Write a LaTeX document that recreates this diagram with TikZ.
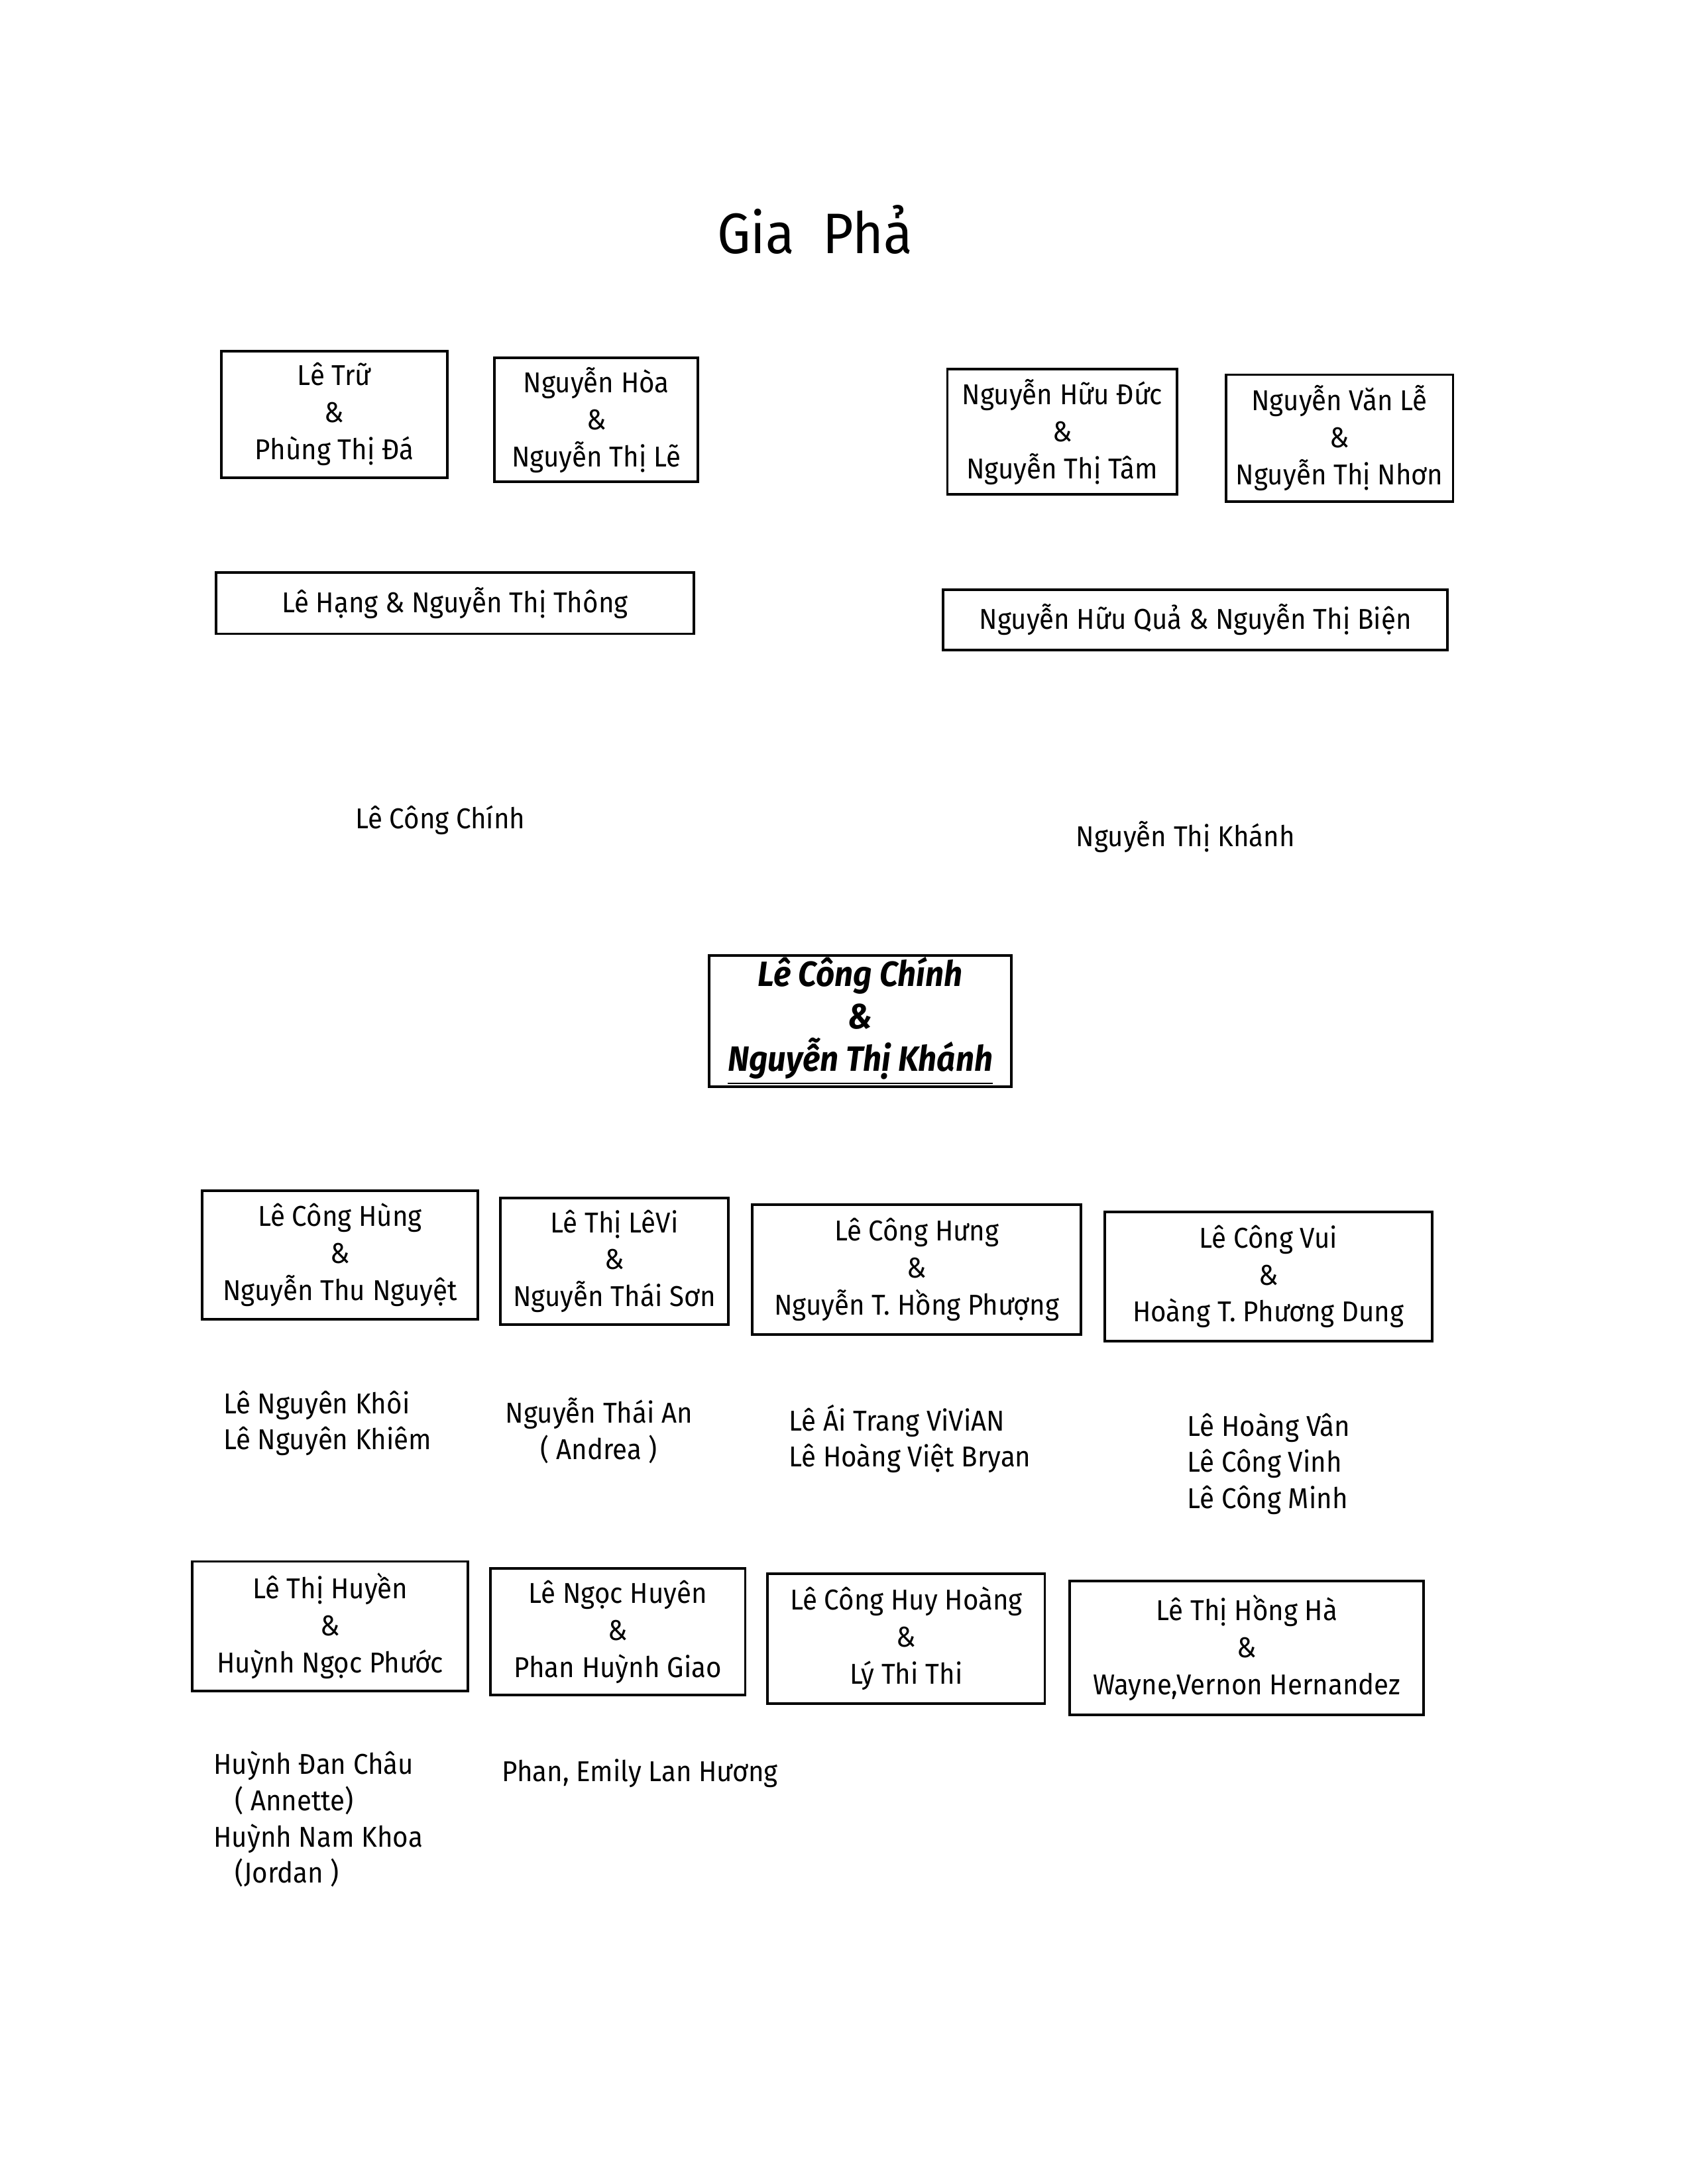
\documentclass[tikz,border=0pt]{standalone}
\usepackage{fontspec}
\setmainfont{Fira Sans}[FakeStretch=0.93]
\begin{document}
\begin{tikzpicture}[x=0.5pt,y=-0.5pt,
  couple/.style={draw,line width=0.9pt,align=center,inner sep=0pt,
    font=\fontsize{10.3}{13.3}\selectfont},
  oneline/.style={draw,line width=0.9pt,align=center,inner sep=0pt,
    font=\fontsize{10.3}{13.3}\selectfont},
  names/.style={align=left,inner sep=0pt,font=\fontsize{10.3}{13}\selectfont},
  single/.style={inner sep=0pt,font=\fontsize{10.3}{13}\selectfont}]
\useasboundingbox (0,0) rectangle (1210,1568);
\fill[white] (0,0) rectangle (1210,1568);

\node (title) at (585,165) {\fontsize{20.5}{24}\selectfont Gia\ \ Phả};

% grandparents
\node[couple,minimum width=81pt,minimum height=45.5pt] (b1) at (240,297.5)
  {Lê Trữ\\\&\\Phùng Thị Đá};
\node[couple,minimum width=73pt,minimum height=44.5pt] (b2) at (428,301.5)
  {Nguyễn Hòa\\\&\\Nguyễn Thị Lẽ};
\node[couple,minimum width=82.5pt,minimum height=45pt] (b3) at (762.5,310)
  {Nguyễn Hữu Đức\\\&\\Nguyễn Thị Tâm};
\node[couple,minimum width=81.5pt,minimum height=45.5pt] (b4) at (961.5,314.5)
  {Nguyễn Văn Lễ\\\&\\Nguyễn Thị Nhơn};

% parents
\node[oneline,minimum width=171.5pt,minimum height=22pt] (b5) at (326.5,433)
  {Lê Hạng \& Nguyễn Thị Thông};
\node[oneline,minimum width=181pt,minimum height=21.5pt] (b6) at (858,445)
  {Nguyễn Hữu Quả \& Nguyễn Thị Biện};

\node[single] (c1) at (316,589) {Lê Công Chính};
\node[single] (c2) at (851,601) {Nguyễn Thị Khánh};

% main couple
\node[couple,minimum width=108.5pt,minimum height=47pt,
  font=\fontsize{12.6}{15.3}\selectfont\bfseries\itshape] (main) at (617.5,733)
  {Lê Công Chính\\\&\\\underline{Nguyễn Thị Khánh}};

% children couples
\node[couple,minimum width=99pt,minimum height=46pt] (k1) at (244,901)
  {Lê Công Hùng\\\&\\Nguyễn Thu Nguyệt};
\node[couple,minimum width=82pt,minimum height=45.5pt] (k2) at (441,905.5)
  {Lê Thị LêVi\\\&\\Nguyễn Thái Sơn};
\node[couple,minimum width=118pt,minimum height=46.5pt] (k3) at (658,911.5)
  {Lê Công Hưng\\\&\\Nguyễn T. Hồng Phượng};
\node[couple,minimum width=117.5pt,minimum height=46.5pt] (k4) at (910.5,916.5)
  {Lê Công Vui\\\&\\Hoàng T. Phương Dung};

% grandchildren
\node[names,anchor=north west] (g1) at (160,998) {Lê Nguyên Khôi\\Lê Nguyên Khiêm};
\node[names,align=center,anchor=north] (g2) at (430,1003) {Nguyễn Thái An\\( Andrea )};
\node[names,anchor=north west] (g3) at (566,1008) {Lê Ái Trang ViViAN\\Lê Hoàng Việt Bryan};
\node[names,anchor=north west] (g4) at (852,1014) {Lê Hoàng Vân\\Lê Công Vinh\\Lê Công Minh};

% more couples
\node[couple,minimum width=99pt,minimum height=46.5pt] (m1) at (237,1167.5)
  {Lê Thị Huyền\\\&\\Huỳnh Ngọc Phước};
\node[couple,minimum width=91.5pt,minimum height=45.5pt] (m2) at (443.5,1171.5)
  {Lê Ngọc Huyên\\\&\\Phan Huỳnh Giao};
\node[couple,minimum width=99.5pt,minimum height=46.5pt] (m3) at (650.5,1176.5)
  {Lê Công Huy Hoàng\\\&\\Lý Thi Thi};
\node[couple,minimum width=127pt,minimum height=48pt] (m4) at (895,1183)
  {Lê Thị Hồng Hà\\\&\\Wayne,Vernon Hernandez};

% great-grandchildren
\node[names,anchor=north west] (h1) at (153,1257)
  {Huỳnh Đan Châu\\\ \ \ ( Annette)\\Huỳnh Nam Khoa\\\ \ \ (Jordan )};
\node[single,anchor=west] (h2) at (360,1273) {Phan, Emily Lan Hương};
\end{tikzpicture}
\end{document}
